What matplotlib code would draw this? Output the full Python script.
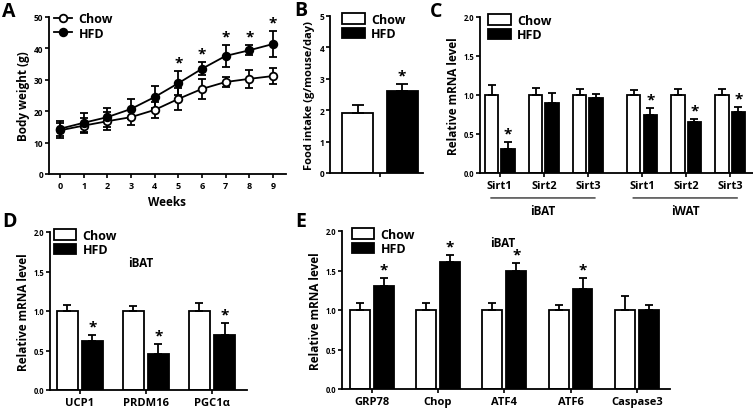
import matplotlib
matplotlib.use("Agg")
import matplotlib.pyplot as plt
from matplotlib.patches import Patch
from matplotlib.lines import Line2D

plt.rcParams['font.family'] = ['Open Sans', 'DejaVu Sans']
plt.rcParams['font.weight'] = 'bold'

# ---- data ----
weeks = [0, 1, 2, 3, 4, 5, 6, 7, 8, 9]
bw_chow = [13.9, 15.4, 16.8, 18.1, 20.4, 23.9, 27.1, 29.3, 30.3, 31.2]
bw_chow_err = [2.4, 2.5, 2.8, 2.5, 2.6, 3.5, 3.3, 1.7, 2.8, 2.4]
bw_hfd = [14.4, 16.3, 18.1, 20.7, 24.5, 28.9, 33.5, 37.6, 39.4, 41.4]
bw_hfd_err = [2.4, 3.0, 3.0, 3.3, 3.5, 3.8, 2.1, 3.4, 1.6, 4.1]
bw_sig = [5, 6, 7, 8, 9]

food_groups = ['Chow', 'HFD']
food = [1.9, 2.6]
food_err = [0.25, 0.24]

sirt_labels = ['Sirt1', 'Sirt2', 'Sirt3', 'Sirt1', 'Sirt2', 'Sirt3']
sirt_chow = [1.0, 1.0, 1.0, 1.0, 1.0, 1.0]
sirt_chow_err = [0.13, 0.09, 0.08, 0.06, 0.08, 0.08]
sirt_hfd = [0.31, 0.90, 0.96, 0.75, 0.655, 0.78]
sirt_hfd_err = [0.09, 0.12, 0.05, 0.08, 0.04, 0.07]
sirt_sig = [True, False, False, True, True, True]

thermo_labels = ['UCP1', 'PRDM16', 'PGC1\u03b1']
thermo_chow = [1.0, 1.0, 1.0]
thermo_chow_err = [0.08, 0.06, 0.10]
thermo_hfd = [0.62, 0.46, 0.70]
thermo_hfd_err = [0.07, 0.12, 0.15]

er_labels = ['GRP78', 'Chop', 'ATF4', 'ATF6', 'Caspase3']
er_chow = [1.0, 1.0, 1.0, 1.0, 1.0]
er_chow_err = [0.09, 0.09, 0.09, 0.06, 0.18]
er_hfd = [1.30, 1.61, 1.50, 1.26, 1.0]
er_hfd_err = [0.11, 0.09, 0.09, 0.15, 0.06]
er_sig = [True, True, True, True, False]

W, H = 753, 410
fig = plt.figure(figsize=(W / 100, H / 100), dpi=100)


def px_axes(l, t, r, b):
    return fig.add_axes([l / W, 1 - b / H, (r - l) / W, (b - t) / H])


def style(ax, ysize=5.5, xsize=8):
    for s in ['top', 'right']:
        ax.spines[s].set_visible(False)
    for s in ['left', 'bottom']:
        ax.spines[s].set_linewidth(1.3)
    ax.tick_params(width=1.2, length=3, direction='out')
    ax.tick_params(axis='y', labelsize=ysize, pad=1)
    ax.tick_params(axis='x', labelsize=xsize, pad=2)


def bar_pairs(ax, pos, chow, chow_err, hfd, hfd_err, sig, w=0.3, off=0.185, star_gap=0.02):
    xc = [p - off for p in pos]
    xh = [p + off for p in pos]
    ekw = dict(elinewidth=1.3, capthick=1.3, ecolor='black')
    ax.bar(xc, chow, w, color='white', edgecolor='black', linewidth=1.3,
           yerr=[[0] * len(chow), chow_err], capsize=3, error_kw=ekw, zorder=2)
    ax.bar(xh, hfd, w, color='black', edgecolor='black', linewidth=1.3,
           yerr=[[0] * len(hfd), hfd_err], capsize=3, error_kw=ekw, zorder=2)
    for x, v, e, s in zip(xh, hfd, hfd_err, sig):
        if s:
            ax.text(x, v + e + star_gap, '*', ha='center', va='bottom',
                    fontsize=11, fontweight='bold')


def bar_legend(ax, loc, bbox):
    handles = [Patch(facecolor='white', edgecolor='black', linewidth=1.3, label='Chow'),
               Patch(facecolor='black', edgecolor='black', linewidth=1.3, label='HFD')]
    ax.legend(handles=handles, loc=loc, bbox_to_anchor=bbox, frameon=False,
              fontsize=9, handlelength=1.8, handleheight=0.9, handletextpad=0.5,
              labelspacing=0.1, borderaxespad=0, borderpad=0)


# ---- A: body weight ----
axA = px_axes(49, 18, 286, 175)
axA.errorbar(weeks, bw_chow, yerr=bw_chow_err, color='black', lw=1.3, marker='o',
             ms=5.5, mfc='white', mec='black', mew=1.3, capsize=3, capthick=1.3, zorder=3)
axA.errorbar(weeks, bw_hfd, yerr=bw_hfd_err, color='black', lw=1.3, marker='o',
             ms=5.5, mfc='black', mec='black', mew=1.3, capsize=3, capthick=1.3, zorder=3)
for wk in bw_sig:
    axA.text(wk, bw_hfd[wk] + bw_hfd_err[wk] + 0.5, '*', ha='center', va='bottom',
             fontsize=11, fontweight='bold')
axA.set_xlim(-0.46, 9.55)
axA.set_ylim(0, 50)
axA.set_xticks(weeks)
axA.set_yticks([0, 10, 20, 30, 40, 50])
style(axA, ysize=6, xsize=6.5)
axA.set_xlabel('Weeks', fontsize=8.5, fontweight='bold', labelpad=4)
axA.set_ylabel('Body weight (g)', fontsize=8.5, fontweight='bold', labelpad=3)
axA.legend(handles=[Line2D([], [], color='black', lw=1.3, marker='o', ms=5.5, mfc='white', mew=1.3, label='Chow'),
                    Line2D([], [], color='black', lw=1.3, marker='o', ms=5.5, mfc='black', mew=1.3, label='HFD')],
           loc='upper left', bbox_to_anchor=(0.02, 1.03), frameon=False, fontsize=9,
           handlelength=1.5, handletextpad=0.5, labelspacing=0.1, borderaxespad=0, borderpad=0)

# ---- B: food intake ----
axB = px_axes(330, 17, 423, 174)
axB.bar([0], [food[0]], 0.7, color='white', edgecolor='black', linewidth=1.3,
        yerr=[[0], [food_err[0]]], capsize=4, error_kw=dict(elinewidth=1.3, capthick=1.3), zorder=2)
axB.bar([1], [food[1]], 0.7, color='black', edgecolor='black', linewidth=1.3,
        yerr=[[0], [food_err[1]]], capsize=4, error_kw=dict(elinewidth=1.3, capthick=1.3), zorder=2)
axB.text(1, food[1] + food_err[1] + 0.05, '*', ha='center', va='bottom', fontsize=11, fontweight='bold')
axB.set_xlim(-0.62, 1.47)
axB.set_ylim(0, 5)
axB.set_xticks([0.5])
axB.set_xticklabels([''])
axB.set_yticks([0, 1, 2, 3, 4, 5])
style(axB, ysize=6)
axB.set_ylabel('Food intake (g/mouse/day)', fontsize=8, fontweight='bold', labelpad=3)
bar_legend(axB, 'upper left', (0.13, 1.02))

# ---- C: Sirt ----
axC = px_axes(480, 18, 753, 174)
posC = [0, 1, 2, 3.23, 4.23, 5.23]
bar_pairs(axC, posC, sirt_chow, sirt_chow_err, sirt_hfd, sirt_hfd_err, sirt_sig)
axC.set_xlim(-0.45, 5.75)
axC.set_ylim(0, 2)
axC.set_yticks([0, 0.5, 1.0, 1.5, 2.0])
axC.set_xticks(posC)
axC.set_xticklabels(sirt_labels)
style(axC)
axC.set_ylabel('Relative mRNA level', fontsize=8.5, fontweight='bold', labelpad=3)
bar_legend(axC, 'upper left', (0.03, 1.02))
for x0, x1, name in [(posC[0] - 0.27, posC[2] + 0.23, 'iBAT'), (posC[3] - 0.27, posC[5] + 0.23, 'iWAT')]:
    axC.annotate('', xy=(x0, -0.16), xytext=(x1, -0.16), xycoords=('data', 'axes fraction'),
                 arrowprops=dict(arrowstyle='-', lw=0.8, color='black'), annotation_clip=False)
    axC.text((x0 + x1) / 2, -0.2, name, transform=axC.get_xaxis_transform(),
             ha='center', va='top', fontsize=8.5, fontweight='bold')

# ---- D: thermogenic genes ----
axD = px_axes(50, 233, 247, 391)
posD = [0, 1, 2]
bar_pairs(axD, posD, thermo_chow, thermo_chow_err, thermo_hfd, thermo_hfd_err, [True] * 3, w=0.32, off=0.19)
axD.set_xlim(-0.45, 2.53)
axD.set_ylim(0, 2)
axD.set_yticks([0, 0.5, 1.0, 1.5, 2.0])
axD.set_xticks(posD)
axD.set_xticklabels(thermo_labels)
style(axD)
axD.set_ylabel('Relative mRNA level', fontsize=8.5, fontweight='bold', labelpad=3)
bar_legend(axD, 'upper left', (0.02, 1.02))
axD.text(0.46, 0.81, 'iBAT', transform=axD.transAxes, ha='center', va='center',
         fontsize=8.5, fontweight='bold')

# ---- E: ER stress ----
axE = px_axes(342, 232, 670, 390)
posE = [0, 1, 2, 3, 4]
bar_pairs(axE, posE, er_chow, er_chow_err, er_hfd, er_hfd_err, er_sig, w=0.3, off=0.18)
axE.set_xlim(-0.45, 4.5)
axE.set_ylim(0, 2)
axE.set_yticks([0, 0.5, 1.0, 1.5, 2.0])
axE.set_xticks(posE)
axE.set_xticklabels(er_labels)
style(axE)
axE.set_ylabel('Relative mRNA level', fontsize=8.5, fontweight='bold', labelpad=3)
bar_legend(axE, 'upper left', (0.03, 1.02))
axE.text(0.49, 0.93, 'iBAT', transform=axE.transAxes, ha='center', va='center',
         fontsize=8.5, fontweight='bold')

# ---- panel letters ----
for x, y, letter in [(2, 2, 'A'), (294, 1, 'B'), (430, 2, 'C'), (2, 212, 'D'), (295, 212, 'E')]:
    fig.text(x / W, 1 - y / H, letter, ha='left', va='top', fontsize=14, fontweight='bold')

fig.savefig('out.png', dpi=100)
